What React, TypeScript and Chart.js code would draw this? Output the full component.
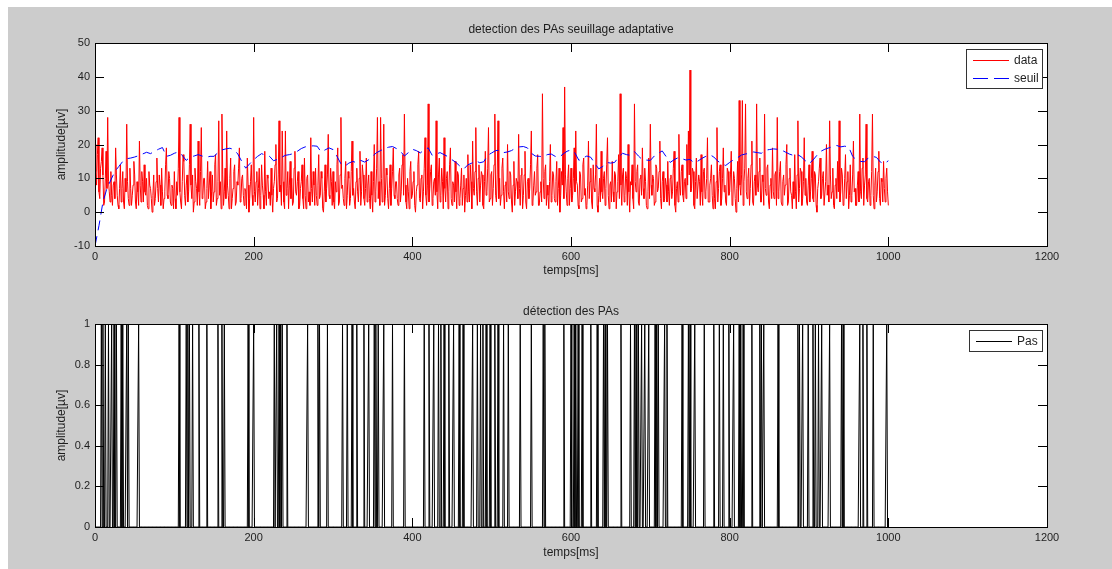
import React, { useEffect, useRef } from "react";
import { Chart, registerables } from "chart.js";

Chart.register(...registerables);

// ---------- data ----------
const X_MIN = 0;
const X_MAX = 1200;
const X_STEP = 200;

const TOP_Y_MIN = -10;
const TOP_Y_MAX = 50;
const TOP_Y_STEP = 10;

const BOT_Y_MIN = 0;
const BOT_Y_MAX = 1;
const BOT_Y_STEP = 0.2;

// red "data" signal, one value every 1 ms from 0 to 1000 ms
const DATA_STEP_MS = 1;
const dataValues = [
  20, 12, 8, 17, 22, 6, 4, 13, 15, 19, 11, 2, 3, 10, 18, 7, 28, 9, 6, 3,
  12, 5, 2, 8, 9, 4, 19, 11, 5, 2, 1, 7, 14, 3, 7, 12, 3, 1, 10, 6,
  26, 9, 4, 2, 13, 7, 2, 5, 8, 15, 11, 3, 1, 9, 6, 2, 21, 8, 3, 12,
  9, 3, 14, 6, 5, 10, 2, 1, 12, 8, 7, 4, 0, 5, 11, 2, 4, 9, 16, 7,
  3, 11, 8, 2, 13, 6, 1, 4, 6, 14, 19, 5, 4, 12, 10, 3, 2, 8, 7, 1,
  12, 4, 1, 9, 5, 13, 28, 6, 3, 1, 9, 17, 15, 5, 2, 8, 11, 3, 6, 14,
  26, 8, 4, 11, 0, 3, 13, 9, 7, 2, 21, 6, 2, 12, 25, 4, 5, 10, 10, 1,
  3, 7, 15, 4, 8, 12, 1, 6, 11, 3, 6, 14, 17, 2, 4, 9, 27, 5, 9, 1,
  29, 11, 2, 6, 13, 4, 24, 8, 5, 1, 10, 16, 1, 4, 7, 12, 14, 2, 3, 9,
  8, 13, 19, 3, 4, 10, 11, 5, 2, 7, 6, 1, 16, 8, 0, 4, 9, 14, 5, 2,
  28, 6, 3, 9, 12, 2, 7, 13, 1, 5, 14, 8, 5, 1, 18, 6, 2, 11, 10, 4,
  6, 2, 13, 5, 0, 7, 9, 14, 20, 3, 4, 11, 27, 6, 8, 2, 24, 9, 3, 1,
  24, 5, 7, 12, 1, 8, 15, 4, 10, 2, 3, 13, 18, 6, 5, 9, 12, 1, 2, 7,
  9, 14, 4, 1, 16, 5, 1, 10, 11, 3, 6, 2, 22, 7, 3, 12, 8, 2, 13, 5,
  2, 8, 17, 4, 5, 12, 10, 1, 0, 6, 14, 3, 7, 11, 23, 5, 4, 13, 9, 2,
  12, 3, 1, 9, 6, 14, 19, 2, 3, 11, 28, 7, 8, 4, 2, 10, 15, 1, 5, 12,
  10, 2, 4, 12, 21, 5, 7, 3, 1, 9, 13, 6, 3, 10, 18, 2, 6, 14, 11, 4,
  2, 7, 16, 3, 8, 11, 4, 1, 12, 5, 0, 9, 20, 3, 6, 13, 28, 4, 9, 2,
  28, 10, 3, 8, 26, 2, 5, 13, 11, 4, 1, 7, 14, 2, 7, 12, 19, 5, 4, 9,
  9, 4, 2, 11, 13, 3, 6, 14, 17, 5, 29, 8, 3, 1, 10, 6, 1, 12, 15, 4,
  5, 9, 12, 2, 0, 6, 8, 14, 18, 4, 3, 10, 11, 1, 6, 13, 22, 5, 2, 8,
  32, 3, 7, 12, 14, 2, 4, 9, 10, 5, 27, 6, 1, 11, 16, 3, 5, 13, 9, 1,
  22, 7, 3, 10, 12, 1, 6, 14, 19, 4, 2, 9, 8, 3, 15, 6, 1, 12, 11, 2,
  4, 8, 13, 2, 7, 11, 0, 5, 10, 3, 17, 6, 3, 14, 9, 1, 21, 7, 5, 12,
  25, 6, 2, 10, 14, 3, 8, 12, 11, 2, 1, 9, 18, 5, 6, 13, 25, 3, 4, 11,
  12, 2, 7, 14, 29, 5, 3, 11, 27, 4, 10, 2, 5, 13, 16, 6, 1, 8, 9, 3,
  20, 6, 4, 12, 11, 3, 0, 8, 15, 2, 6, 10, 9, 4, 23, 7, 2, 11, 13, 1,
  5, 11, 18, 3, 1, 9, 10, 4, 7, 14, 24, 2, 3, 8, 12, 5, 6, 13, 17, 2,
  2, 6, 9, 3, 35, 10, 4, 12, 14, 2, 8, 5, 1, 9, 20, 3, 5, 12, 11, 4,
  3, 9, 15, 2, 7, 13, 0, 5, 12, 8, 25, 4, 37, 11, 6, 2, 10, 14, 2, 7,
  13, 3, 5, 10, 19, 6, 24, 9, 8, 2, 1, 12, 11, 3, 4, 14, 16, 5, 7, 1,
  2, 8, 21, 4, 9, 13, 3, 1, 14, 7, 6, 11, 26, 2, 0, 5, 10, 3, 18, 6,
  4, 10, 12, 2, 7, 14, 22, 5, 1, 8, 9, 3, 15, 6, 3, 12, 11, 1, 6, 9,
  17, 4, 35, 8, 2, 11, 13, 3, 5, 12, 10, 2, 20, 6, 0, 9, 8, 14, 4, 1,
  32, 9, 6, 12, 14, 3, 2, 10, 11, 5, 19, 7, 4, 13, 9, 2, 1, 6, 16, 4,
  26, 8, 5, 11, 10, 2, 3, 14, 13, 6, 7, 12, 21, 4, 1, 9, 12, 3, 4, 10,
  8, 3, 15, 6, 2, 10, 11, 4, 6, 13, 18, 2, 0, 7, 9, 3, 23, 8, 5, 12,
  14, 5, 3, 9, 10, 4, 20, 8, 24, 11, 42, 6, 7, 13, 12, 2, 1, 9, 16, 4,
  4, 11, 9, 2, 17, 6, 2, 12, 13, 4, 6, 10, 22, 3, 3, 8, 10, 14, 5, 1,
  11, 4, 1, 9, 25, 3, 7, 12, 14, 2, 4, 10, 19, 6, 8, 3, 2, 13, 12, 5,
  6, 11, 18, 2, 3, 12, 10, 4, 0, 7, 15, 3, 33, 8, 5, 11, 33, 2, 9, 13,
  32, 6, 4, 10, 13, 2, 7, 14, 21, 3, 2, 9, 11, 5, 32, 8, 6, 12, 16, 3,
  3, 11, 9, 2, 29, 7, 5, 13, 14, 3, 1, 8, 10, 4, 19, 6, 4, 11, 12, 2,
  28, 4, 6, 12, 15, 3, 2, 9, 11, 5, 8, 14, 20, 2, 3, 10, 13, 6, 5, 1,
  9, 4, 17, 6, 1, 11, 27, 3, 7, 13, 12, 2, 4, 9, 22, 5, 10, 3, 2, 8,
  14, 3, 6, 10, 18, 4, 3, 12, 11, 2, 0, 7, 9, 13, 16, 4, 5, 10, 12, 2,
  2, 9, 20, 5, 8, 3, 27, 11, 4, 6, 13, 2, 1, 8, 10, 4, 15, 6, 27, 3,
  6, 13, 11, 2, 3, 10, 17, 4, 9, 12, 1, 5, 14, 3, 5, 11, 21, 6, 7, 2,
  2, 8, 12, 3, 29, 6, 4, 13, 16, 2, 8, 11, 26, 4, 3, 9, 10, 2, 5, 12,
  29, 5, 1, 8, 13, 3, 6, 12, 18, 4, 2, 10, 9, 3, 15, 7, 3, 10, 13, 6,
  2,
];

// blue dashed "seuil" (adaptive threshold), one value every 5 ms
const SEUIL_STEP_MS = 5;
const seuilValues = [
  -10, -4, 3, 7, 9.5, 12, 13.5, 15, 15.8, 16,
  16.3, 16.7, 17.2, 17.7, 17.3, 18, 18.6, 19.1, 16.5, 16.8,
  17.4, 17.8, 16.8, 15.3, 16.3, 16.6, 17, 16.6, 16.2, 16.5,
  16.5, 17.6, 18.4, 18.7, 18.9, 18.5, 17.2, 15, 13, 14.3,
  15.5, 16.5, 17.3, 16.8, 16.5, 15.2, 15.6, 16.2, 16.8, 17,
  17.3, 18, 18.8, 19.3, 19.5, 19.6, 19.5, 17.8, 18.4, 19,
  18.5, 16.5, 14.3, 13.6, 14.5, 15, 14.6, 15.3, 14.8, 15.5,
  16.6, 17.6, 18.2, 18.8, 19.2, 19.4, 18.8, 18, 16.6, 17.6,
  18.6, 18.2, 17.5, 18.4, 19, 16.8, 17.2, 17.6, 17, 16.4,
  15.5, 14.7, 13.6, 12.8, 14, 14.5, 15.2, 14.6, 14.9, 16.8,
  17.5, 18.2, 18.3, 17.6, 17.8, 18.2, 18.9, 19.3, 19.4, 19,
  17.4, 16.6, 16.5, 16.4, 17, 17.2, 16.5, 16.2, 17.2, 18,
  18.4, 17.5, 15.3, 16, 16.6, 16.2, 14.4, 12.8, 13.5, 14.7,
  14.5, 14.7, 16.3, 17.4, 17, 16.8, 17.9, 16.6, 15.5, 15.4,
  15.3, 16.6, 17.4, 18.1, 16.4, 14.7, 15.5, 16.1, 15.8, 15.4,
  15.6, 14.6, 15.1, 15.9, 16.5, 17, 16.3, 15.1, 14.3, 13.8,
  14.7, 15.5, 16.1, 16.9, 17.2, 17.4, 17.8, 17.6, 17.4, 18.3,
  18.5, 18.7, 18.6, 18.4, 17.8, 17.2, 16.8, 17.1, 16.4, 15.3,
  14.3, 15.4, 16.8, 18, 18.6, 19, 19.4, 19.7, 19.3, 19.5,
  19.3, 16.5, 15.4, 15, 14.9, 16.1, 16.5, 16.2, 14.8, 14.3,
  15.2,
];

// detected action potentials (ms) for the "Pas" pulse train
const PAS_END_MS = 1000;
const detectionTimes = [
  8, 10, 13, 17, 21, 24, 27, 33, 35, 40, 42, 55,
  106, 115, 117, 119, 123, 131, 141, 155, 160, 163, 193, 200,
  226, 229, 232, 234, 236, 242, 268, 281, 283, 293,
  312, 318, 324, 330, 339, 345, 352, 354, 357, 364, 375, 390,
  415, 421, 427, 433, 436, 440, 446, 452, 459, 464, 476, 482, 486, 489, 493, 498,
  504, 508, 515, 521, 536, 550, 565, 567, 591,
  600, 604, 606, 609, 614, 625, 633, 641, 643, 646, 663, 675, 680, 682, 685, 689, 693, 698,
  706, 708, 710, 718, 721, 740, 748, 750, 756, 768, 780, 787, 792, 799,
  805, 812, 814, 817, 828, 838, 840, 843, 861, 886, 888, 892, 899,
  905, 908, 912, 916, 926, 941, 943, 964, 968, 973, 981, 998,
];

const TOP_TITLE = "detection des PAs seuillage adaptative";
const BOT_TITLE = "détection des PAs";
const X_LABEL = "temps[ms]";
const Y_LABEL = "amplitude[µv]";

// ---------- helpers ----------
const FONT_FAMILY = '"Liberation Sans", Arial, Helvetica, sans-serif';
const LABEL_FONT = `12px ${FONT_FAMILY}`;
const TEXT_COLOR = "#1e1e1e";

function toPoints(values: number[], step: number) {
  return values.map((v, i) => ({ x: i * step, y: v }));
}

function pasPoints(times: number[], end: number) {
  const arr: number[] = new Array(end + 1).fill(0);
  times.forEach((t) => {
    if (t >= 0 && t <= end) arr[t] = 1;
  });
  return arr.map((v, i) => ({ x: i, y: v }));
}

const matlabPlugin = {
  id: "matlabFrame",
  beforeDraw(chart: any) {
    const { ctx, chartArea: a } = chart;
    ctx.save();
    ctx.fillStyle = "#ffffff";
    ctx.fillRect(a.left, a.top, a.right - a.left, a.bottom - a.top);
    ctx.restore();
  },
  afterDraw(chart: any, _args: any, opts: any) {
    const { ctx, chartArea: a } = chart;
    const xs = chart.scales.x;
    const ys = chart.scales.y;
    ctx.save();
    ctx.strokeStyle = "#000000";
    ctx.lineWidth = 1;
    ctx.setLineDash([]);
    ctx.strokeRect(a.left + 0.5, a.top + 0.5, a.right - a.left, a.bottom - a.top);
    const tl = 9;
    ctx.beginPath();
    xs.ticks.forEach((t: any) => {
      const p = Math.round(xs.getPixelForValue(t.value)) + 0.5;
      ctx.moveTo(p, a.bottom);
      ctx.lineTo(p, a.bottom - tl);
      ctx.moveTo(p, a.top);
      ctx.lineTo(p, a.top + tl);
    });
    ys.ticks.forEach((t: any) => {
      const p = Math.round(ys.getPixelForValue(t.value)) + 0.5;
      ctx.moveTo(a.left, p);
      ctx.lineTo(a.left + tl, p);
      ctx.moveTo(a.right, p);
      ctx.lineTo(a.right - tl, p);
    });
    ctx.stroke();

    // titles
    ctx.fillStyle = TEXT_COLOR;
    ctx.font = LABEL_FONT;
    ctx.textAlign = "center";
    ctx.textBaseline = "middle";
    const cx = (a.left + a.right) / 2;
    ctx.fillText(opts.title, cx, a.top - opts.titleGap);
    ctx.fillText(opts.xTitle, cx, a.bottom + opts.xTitleGap);
    ctx.save();
    ctx.translate(opts.yTitleX, (a.top + a.bottom) / 2);
    ctx.rotate(-Math.PI / 2);
    ctx.fillText(opts.yTitle, 0, 0);
    ctx.restore();

    // legend
    const items = opts.legend.items;
    const w = opts.legend.width;
    const h = 3 + 18 * items.length;
    const bx = a.right - 5 - w;
    const by = a.top + 6;
    ctx.fillStyle = "#ffffff";
    ctx.fillRect(bx, by, w, h);
    ctx.strokeStyle = "#333333";
    ctx.strokeRect(bx + 0.5, by + 0.5, w, h);
    items.forEach((it: any, i: number) => {
      const yy = Math.round(by + 11 + 18 * i) + 0.5;
      ctx.beginPath();
      ctx.strokeStyle = it.color;
      ctx.setLineDash(it.dash || []);
      ctx.moveTo(bx + 7, yy);
      ctx.lineTo(bx + 43, yy);
      ctx.stroke();
      ctx.setLineDash([]);
      ctx.fillStyle = TEXT_COLOR;
      ctx.textAlign = "left";
      ctx.textBaseline = "middle";
      ctx.fillText(it.label, bx + 48, yy);
    });
    ctx.restore();
  },
};

function makeOptions(cfg: {
  yMin: number;
  yMax: number;
  yStep: number;
  padTop: number;
  xHeight: number;
  frame: any;
}) {
  return {
    responsive: false,
    animation: false,
    events: [],
    layout: { padding: { left: 0, top: cfg.padTop, right: 65, bottom: 0 } },
    plugins: {
      legend: { display: false },
      title: { display: false },
      tooltip: { enabled: false },
      matlabFrame: cfg.frame,
    },
    elements: { point: { radius: 0 }, line: { tension: 0 } },
    scales: {
      x: {
        type: "linear",
        min: X_MIN,
        max: X_MAX,
        ticks: {
          stepSize: X_STEP,
          color: TEXT_COLOR,
          font: { family: FONT_FAMILY, size: 11 },
          padding: 4,
          maxRotation: 0,
          callback: (v: any) => String(v),
        },
        grid: { display: false, drawTicks: false },
        border: { display: false },
        afterFit: (s: any) => {
          s.height = cfg.xHeight;
        },
      },
      y: {
        type: "linear",
        min: cfg.yMin,
        max: cfg.yMax,
        ticks: {
          stepSize: cfg.yStep,
          color: TEXT_COLOR,
          font: { family: FONT_FAMILY, size: 11 },
          padding: 5,
          callback: (v: any) => String(Number(Number(v).toFixed(2))),
        },
        grid: { display: false, drawTicks: false },
        border: { display: false },
        afterFit: (s: any) => {
          s.width = 87;
        },
      },
    },
  };
}

export default function App() {
  const topRef = useRef<HTMLCanvasElement | null>(null);
  const botRef = useRef<HTMLCanvasElement | null>(null);

  useEffect(() => {
    const top = new Chart(topRef.current as HTMLCanvasElement, {
      type: "line",
      data: {
        datasets: [
          {
            label: "data",
            data: toPoints(dataValues, DATA_STEP_MS),
            borderColor: "#ff0000",
            borderWidth: 1,
            pointRadius: 0,
            fill: false,
            order: 2,
          },
          {
            label: "seuil",
            data: toPoints(seuilValues, SEUIL_STEP_MS),
            borderColor: "#0000ff",
            borderWidth: 1,
            borderDash: [10, 6],
            pointRadius: 0,
            fill: false,
            order: 1,
          },
        ],
      },
      options: makeOptions({
        yMin: TOP_Y_MIN,
        yMax: TOP_Y_MAX,
        yStep: TOP_Y_STEP,
        padTop: 36,
        xHeight: 44,
        frame: {
          title: TOP_TITLE,
          titleGap: 13,
          xTitle: X_LABEL,
          xTitleGap: 25,
          yTitle: Y_LABEL,
          yTitleX: 54,
          legend: {
            width: 76,
            items: [
              { label: "data", color: "#ff0000" },
              { label: "seuil", color: "#0000ff", dash: [15, 6] },
            ],
          },
        },
      }) as any,
      plugins: [matlabPlugin],
    });

    const bot = new Chart(botRef.current as HTMLCanvasElement, {
      type: "line",
      data: {
        datasets: [
          {
            label: "Pas",
            data: pasPoints(detectionTimes, PAS_END_MS),
            borderColor: "#000000",
            borderWidth: 1,
            pointRadius: 0,
            fill: false,
          },
        ],
      },
      options: makeOptions({
        yMin: BOT_Y_MIN,
        yMax: BOT_Y_MAX,
        yStep: BOT_Y_STEP,
        padTop: 34,
        xHeight: 42,
        frame: {
          title: BOT_TITLE,
          titleGap: 12,
          xTitle: X_LABEL,
          xTitleGap: 26,
          yTitle: Y_LABEL,
          yTitleX: 54,
          legend: {
            width: 73,
            items: [{ label: "Pas", color: "#000000" }],
          },
        },
      }) as any,
      plugins: [matlabPlugin],
    });

    return () => {
      top.destroy();
      bot.destroy();
    };
  }, []);

  return (
    <div
      style={{
        position: "absolute",
        left: 8,
        top: 7,
        width: 1104,
        height: 562,
        background: "#cccccc",
      }}
    >
      <canvas
        ref={topRef}
        width={1104}
        height={283}
        style={{ position: "absolute", left: 0, top: 0, width: 1104, height: 283 }}
      />
      <canvas
        ref={botRef}
        width={1104}
        height={279}
        style={{ position: "absolute", left: 0, top: 283, width: 1104, height: 279 }}
      />
    </div>
  );
}
